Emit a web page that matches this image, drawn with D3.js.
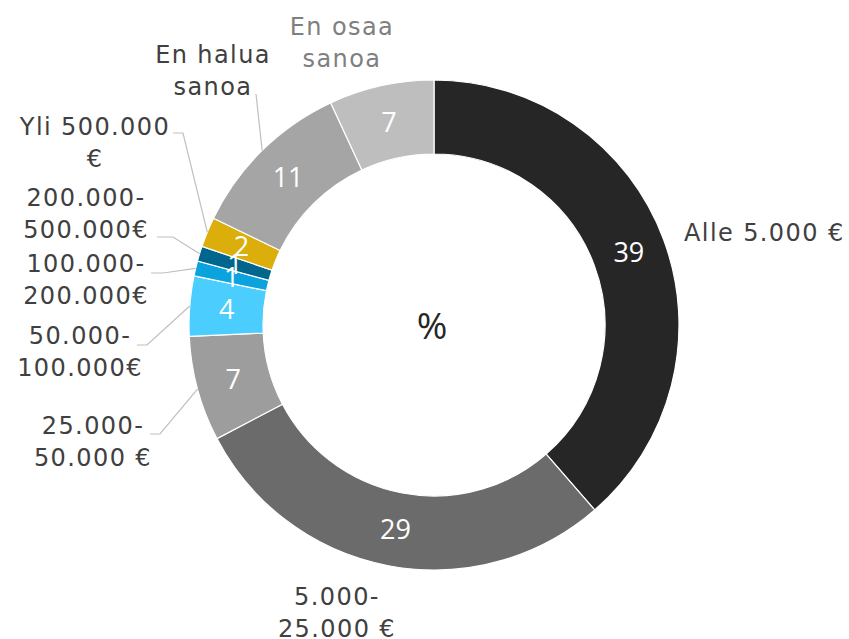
<!DOCTYPE html>
<html><head><meta charset="utf-8">
<script src="https://cdn.jsdelivr.net/npm/d3@7"></script>
<style>
body{margin:0;background:#fff;}
svg{display:block;}
</style></head>
<body>
<svg id="chart" width="849" height="639"></svg>
<script>
// Data
const categories = ["Alle 5.000 €","5.000-25.000 €","25.000-50.000 €","50.000-100.000€","100.000-200.000€","200.000-500.000€","Yli 500.000 €","En halua sanoa","En osaa sanoa"];
const values = [39, 29, 7, 4, 1, 1, 2, 11, 7];
const colors = ["#262626","#6b6b6b","#9d9d9d","#4bcdfd","#0aa3dd","#00668d","#dcae0c","#a5a5a5","#bebebe"];
const labelLines = [["Alle 5.000 €"],["5.000-","25.000 €"],["25.000-","50.000 €"],["50.000-","100.000€"],["100.000-","200.000€"],["200.000-","500.000€"],["Yli 500.000","€"],["En halua","sanoa"],["En osaa","sanoa"]];
const centerLabel = "%";

// Layout (positions of category labels, leader elbows)
const layout = [
  {x:684, y:241, anchor:"start", leader:null},
  {x:337, y:605, anchor:"middle", leader:null},
  {x:93,  y:434, anchor:"middle", leader:[[150,434],[160,434]]},
  {x:80,  y:344, anchor:"middle", leader:[[137,345],[147,345]]},
  {x:86,  y:272, anchor:"middle", leader:[[151,273],[163,273]]},
  {x:86,  y:206, anchor:"middle", leader:[[157,237],[173,237]]},
  {x:95,  y:135, anchor:"middle", leader:[[173,133],[183,133]]},
  {x:213, y:63,  anchor:"middle", leader:[[256,94]]},
  {x:342, y:35,  anchor:"middle", leader:null, color:"#7f7f7f"}
];

const cx = 434, cy = 325, R = 245, r = 171;
const svg = d3.select("#chart");
const g = svg.append("g").attr("transform", `translate(${cx},${cy})`);

const data = categories.map((c,i)=>({cat:c, value:values[i], i}));
const pie = d3.pie().sort(null).value(d=>d.value);
const arcs = pie(data);
const arc = d3.arc().innerRadius(r).outerRadius(R);
const labelArc = d3.arc().innerRadius((r+R)/2).outerRadius((r+R)/2);

g.selectAll("path.slice").data(arcs).join("path")
  .attr("class","slice")
  .attr("d", arc)
  .attr("fill", d=>colors[d.data.i])
  .attr("stroke","#fff").attr("stroke-width",1.2);

// value labels
g.selectAll("text.val").data(arcs).join("text")
  .attr("class","val")
  .attr("transform", d=>`translate(${labelArc.centroid(d)})`)
  .attr("text-anchor","middle").attr("dy","0.36em")
  .attr("font-family","'Open Sans', sans-serif").attr("font-size",27)
  .attr("fill","#fff")
  .text(d=>d.data.value);

// center label
g.append("text").attr("text-anchor","middle").attr("dy","0.36em")
  .attr("x",-2).attr("y",1)
  .attr("font-family","'Open Sans', sans-serif").attr("font-size",37)
  .attr("fill","#262626").text(centerLabel);

// leader lines
arcs.forEach(d=>{
  const L = layout[d.data.i];
  if(!L.leader) return;
  const mid = (d.startAngle + d.endAngle)/2;
  const end = [cx + R*Math.sin(mid), cy - R*Math.cos(mid)];
  const pts = L.leader.concat([end]);
  svg.append("path")
    .attr("d", d3.line()(pts))
    .attr("fill","none").attr("stroke","#bfbfbf").attr("stroke-width",1.2);
});

// category labels
data.forEach(d=>{
  const L = layout[d.i];
  const t = svg.append("text")
    .attr("x",L.x).attr("y",L.y)
    .attr("text-anchor",L.anchor)
    .attr("font-family","'DejaVu Sans', Verdana, sans-serif")
    .attr("font-size",24)
    .attr("letter-spacing",1.4)
    .attr("fill", L.color || "#404040");
  labelLines[d.i].forEach((ln,k)=>{
    t.append("tspan").attr("x",L.x).attr("dy", k===0?0:32).text(ln);
  });
});
</script>
</body></html>
